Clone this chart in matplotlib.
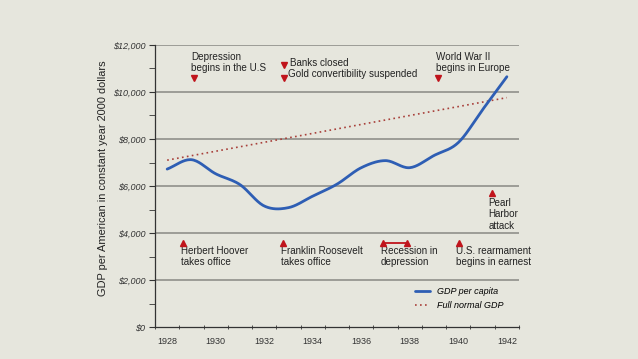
import numpy as np
import matplotlib
matplotlib.use("Agg")
import matplotlib.pyplot as plt
from matplotlib.ticker import MultipleLocator, FixedLocator

plt.rcParams["font.family"] = ["Liberation Sans", "DejaVu Sans"]

years = [1928, 1929, 1930, 1931, 1932, 1933, 1934, 1935,
         1936, 1937, 1938, 1939, 1940, 1941, 1942]
gdp_per_capita = [6720, 7120, 6520, 6060, 5150, 5080, 5570, 6080,
                  6780, 7080, 6780, 7300, 7850, 9250, 10650]
normal_years = [1928, 1942]
normal_gdp = [7100, 9760]

# event markers
down_events_x = [1929.1, 1932.83, 1932.83, 1939.15]
down_events_y = [10580, 11150, 10600, 10600]
up_events_x = [1928.67, 1932.79, 1936.9, 1937.87, 1940.04, 1941.37]
up_events_y = [3590, 3590, 3590, 3590, 3590, 5690]

BG = "#e6e6dd"
RED = "#c0141c"
BLUE = "#2e5eb4"


def smooth(x, y, n=20):
    # Catmull-Rom style smoothing like a spreadsheet "smoothed line"
    x = np.asarray(x, float)
    y = np.asarray(y, float)
    px = np.concatenate([[2 * x[0] - x[1]], x, [2 * x[-1] - x[-2]]])
    py = np.concatenate([[2 * y[0] - y[1]], y, [2 * y[-1] - y[-2]]])
    xs, ys = [], []
    t = np.linspace(0, 1, n)
    for i in range(1, len(px) - 2):
        for arr, out in ((px, xs), (py, ys)):
            p0, p1, p2, p3 = arr[i - 1], arr[i], arr[i + 1], arr[i + 2]
            seg = 0.5 * ((2 * p1) + (-p0 + p2) * t +
                         (2 * p0 - 5 * p1 + 4 * p2 - p3) * t ** 2 +
                         (-p0 + 3 * p1 - 3 * p2 + p3) * t ** 3)
            out.extend(seg)
    return np.array(xs), np.array(ys)


fig = plt.figure(figsize=(6.38, 3.59), dpi=100, facecolor=BG)
ax = fig.add_axes([0.243, 0.089, 0.5705, 0.7857], facecolor=BG)

ax.set_xlim(1927.5, 1942.5)
ax.set_ylim(0, 12000)

for v in range(2000, 12001, 2000):
    ax.axhline(v, color="#9d9d97", lw=1.4, zorder=1)

ax.plot(normal_years, normal_gdp, color="#a8403a", lw=1.2,
        linestyle=(0, (1, 2)), zorder=2, label="Full normal GDP")
sx, sy = smooth(years, gdp_per_capita)
ax.plot(sx, sy, color=BLUE, lw=2.0, zorder=3, label="GDP per capita",
        solid_capstyle="round")

ax.plot(down_events_x, down_events_y, linestyle="none", marker="v",
        color=RED, ms=4, zorder=4)
ax.plot(up_events_x, up_events_y, linestyle="none", marker="^",
        color=RED, ms=4, zorder=4)
ax.plot(up_events_x[2:4], up_events_y[2:4], color=RED, lw=1.3, zorder=4)

tkw = dict(fontsize=7.1, color="#222222", linespacing=1.15, va="top")
ax.text(1929.0, 11720, "Depression\nbegins in the U.S", **tkw)
ax.text(1933.05, 11440, "Banks closed", **tkw)
ax.text(1933.0, 10960, "Gold convertibility suspended", **tkw)
ax.text(1939.08, 11720, "World War II\nbegins in Europe", **tkw)
ax.text(1928.55, 3450, "Herbert Hoover\ntakes office", **tkw)
ax.text(1932.68, 3450, "Franklin Roosevelt\ntakes office", **tkw)
ax.text(1936.8, 3450, "Recession in\ndepression", **tkw)
ax.text(1939.92, 3450, "U.S. rearmament\nbegins in earnest", **tkw)
ax.text(1941.25, 5480, "Pearl\nHarbor\nattack", **tkw)

leg = ax.legend(loc="lower right", bbox_to_anchor=(0.98, 0.03), frameon=False,
                prop={"size": 6.5, "style": "italic"}, handlelength=1.6,
                labelspacing=0.6, reverse=True)

ax.yaxis.set_major_locator(MultipleLocator(2000))
ax.yaxis.set_minor_locator(MultipleLocator(1000))
ax.set_yticklabels(["${:,.0f}".format(v) for v in ax.get_yticks()],
                   fontsize=6.5, style="italic", color="#333333")
ax.xaxis.set_major_locator(FixedLocator(list(range(1928, 1943, 2))))
ax.xaxis.set_minor_locator(FixedLocator(np.arange(1927.5, 1943, 1.0)))
ax.set_xticklabels([str(y) for y in range(1928, 1943, 2)],
                   fontsize=6.5, color="#333333")
ax.tick_params(axis="x", which="major", length=0, pad=7)
ax.tick_params(axis="x", which="minor", length=3, direction="inout",
               color="#333333")
ax.tick_params(axis="y", which="both", length=4, direction="out",
               color="#333333", pad=3)

ax.set_ylabel("GDP per American in constant year 2000 dollars",
              fontsize=7.9, color="#222222", va="center")
ax.yaxis.set_label_coords(-0.143, 0.528)

for s in ("top", "right"):
    ax.spines[s].set_visible(False)
ax.spines["left"].set_color("#333333")
ax.spines["bottom"].set_color("#333333")
ax.spines["left"].set_linewidth(0.9)
ax.spines["bottom"].set_linewidth(0.9)

fig.savefig("out.png", dpi=100, facecolor=BG)
